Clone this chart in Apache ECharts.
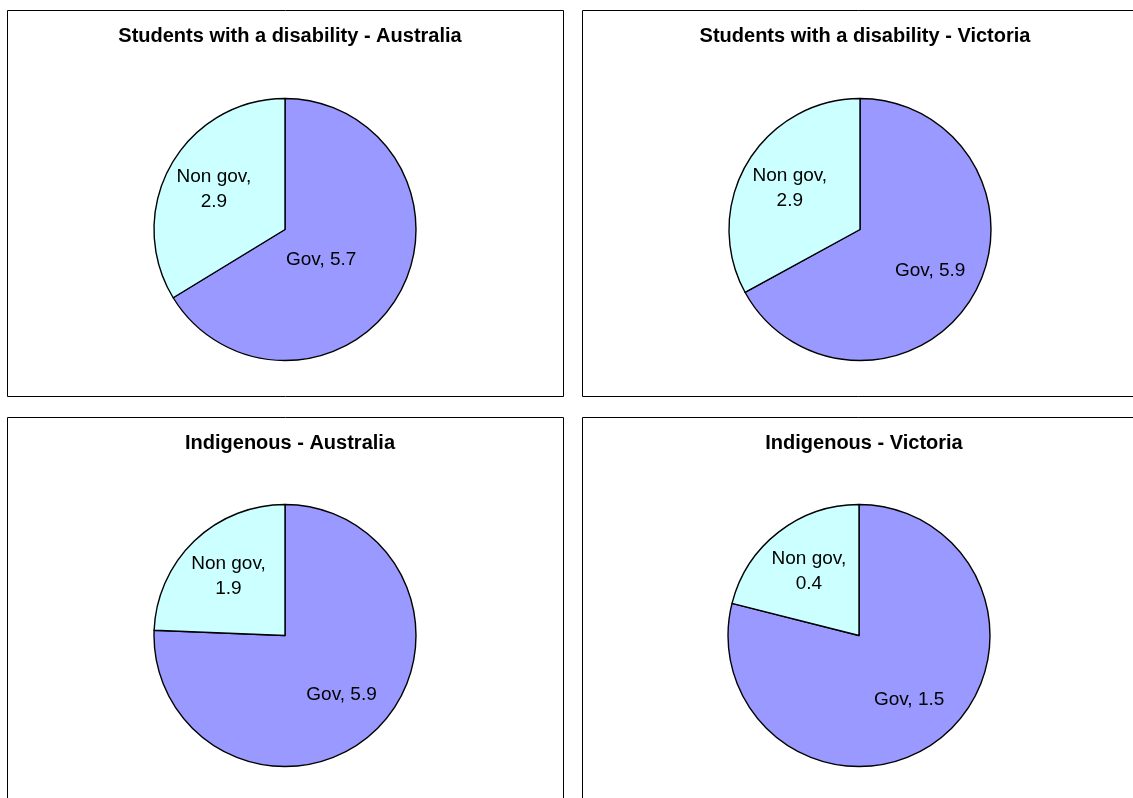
<!DOCTYPE html>
<html>
<head>
<meta charset="utf-8">
<style>
html,body{margin:0;padding:0;background:#fff;}
#chart{width:1133px;height:798px;}
</style>
<script src="https://cdn.jsdelivr.net/npm/echarts@6/dist/echarts.min.js"></script>
</head>
<body>
<div id="chart"></div>
<script>
// Data
var categories = ['Gov', 'Non gov'];
var chartTitles = [
  'Students with a disability - Australia',
  'Students with a disability - Victoria',
  'Indigenous - Australia',
  'Indigenous - Victoria'
];
var disabilityAustralia = [5.7, 2.9];
var disabilityVictoria = [5.9, 2.9];
var indigenousAustralia = [5.9, 1.9];
var indigenousVictoria = [1.5, 0.4];

var seriesValues = [disabilityAustralia, disabilityVictoria, indigenousAustralia, indigenousVictoria];
var colors = ['#9999FF', '#CCFFFF'];

// Layout (styles / positions)
var panels = [
  {x: 7.5, y: 10.5, w: 556, h: 386, cx: 285, cy: 229.5},
  {x: 582.5, y: 10.5, w: 560, h: 386, cx: 860, cy: 229.5},
  {x: 7.5, y: 417.5, w: 556, h: 400, cx: 285, cy: 635.5},
  {x: 582.5, y: 417.5, w: 560, h: 400, cx: 859, cy: 635.5}
];
var R = 131;
var FONT = '"Liberation Sans", Arial, sans-serif';

function makeData(vals) {
  return categories.map(function (c, i) {
    return {name: c, value: vals[i], itemStyle: {color: colors[i]}};
  });
}

var titles = [], series = [], graphics = [];
panels.forEach(function (p, k) {
  graphics.push({
    type: 'rect', shape: {x: p.x, y: p.y, width: p.w, height: p.h},
    style: {fill: 'none', stroke: '#000', lineWidth: 1}, z: 0
  });
  titles.push({
    text: chartTitles[k], left: p.cx, top: p.y + 11, textAlign: 'center',
    textStyle: {fontFamily: FONT, fontWeight: 'bold', fontSize: 20, color: '#000'}
  });
  series.push({
    type: 'pie', center: [p.cx, p.cy], radius: [0, R], startAngle: 90, clockwise: true,
    silent: true, animation: false,
    label: {show: false}, labelLine: {show: false},
    itemStyle: {borderColor: '#000', borderWidth: 1.4},
    emphasis: {disabled: true},
    data: makeData(seriesValues[k])
  });
  var overlay = {
    type: 'pie', center: [p.cx, p.cy], radius: [0, R * 1.2], startAngle: 90, clockwise: true,
    silent: true, animation: false, z: 5,
    itemStyle: {color: 'rgba(0,0,0,0)', borderWidth: 0},
    emphasis: {disabled: true},
    labelLine: {show: false},
    label: {
      show: true, position: 'inside', fontFamily: FONT, fontSize: 19, color: '#000',
      lineHeight: 25, align: 'center',
      formatter: function (prm) {
        return prm.name === 'Non gov' ? prm.name + ',\n' + prm.value : prm.name + ', ' + prm.value;
      }
    },
    data: seriesValues[k].map(function (v, i) {
      return {name: categories[i], value: v};
    })
  };
  if (k === 0) {
    overlay.labelLayout = function (prm) {
      return prm.dataIndex === 0 ? {dx: -35, dy: -10} : {};
    };
  }
  series.push(overlay);
});

var chart = echarts.init(document.getElementById('chart'), null, {renderer: 'canvas'});
chart.setOption({
  backgroundColor: '#fff',
  animation: false,
  title: titles,
  tooltip: {show: false},
  graphic: graphics,
  series: series
});
</script>
</body>
</html>
